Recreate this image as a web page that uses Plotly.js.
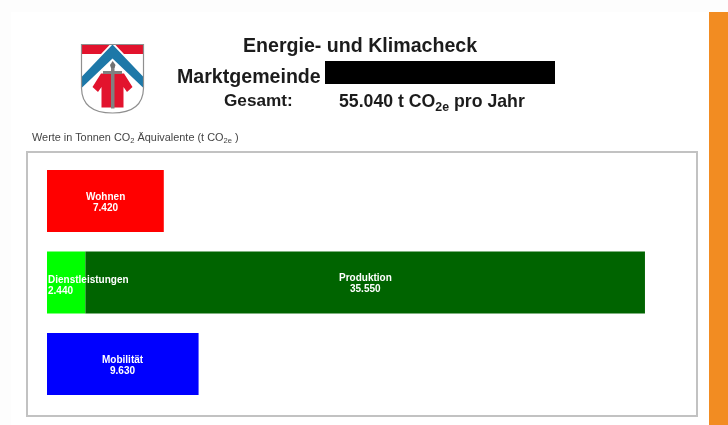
<!DOCTYPE html>
<html><head><meta charset="utf-8">
<script src="https://cdn.plot.ly/plotly-3.0.1.min.js"></script>
<style>html,body{margin:0;padding:0;background:#fff;overflow:hidden}#c{width:728px;height:425px;filter:blur(0.45px)}</style>
</head><body><div id="c"></div>
<script>
const segments = ["Wohnen","Dienstleistungen","Produktion","Mobilität"];
const values = [7420,2440,35550,9630];
const valueLabels = ["7.420","2.440","35.550","9.630"];
const rows = [0,1,1,2];
const colors = ["#ff0000","#00ff00","#006400","#0000ff"];

const W=728,H=425;
const px=(x)=>(x/W).toFixed(5), py=(y)=>(1-y/H).toFixed(5);
function path(pts,fill,line,lw){
  const d=pts.replace(/(-?[\d.]+),(-?[\d.]+)/g,(m,a,b)=>px(+a)+","+py(+b));
  return {type:"path",xref:"paper",yref:"paper",path:d,fillcolor:fill,line:{color:line||fill,width:lw||0},layer:"above"};
}
function rect(x0,y0,x1,y1,fill,layer){
  return {type:"rect",xref:"paper",yref:"paper",x0:x0/W,x1:x1/W,y0:1-y0/H,y1:1-y1/H,fillcolor:fill,line:{width:0},layer:layer||"above"};
}
const shield="M81.5,44.5 L143.5,44.5 L143.5,88 Q143,113 112.5,113 Q82,113 81.5,88 Z";
const shapes=[
  rect(11,12,709,425,"#ffffff","below"),
  rect(709,12,728,425,"#f28c22","below"),
  rect(325,61,555,84,"#000000"),
  path(shield,"#ffffff"),
  path("M81.5,44.5 L110,44.5 L101,54 L81.5,54 Z","#e2132d"),
  path("M143.5,44.5 L115,44.5 L124,54 L143.5,54 Z","#e2132d"),
  path("M112.5,44.5 L143.5,77 L143.5,88 L112.5,58.5 L81.5,88 L81.5,77 Z","#1d78a8"),
  path("M101,73.5 L124,73.5 L132.5,87 L127,92 L123.5,87 L123.5,107.5 L101.5,107.5 L101.5,87 L98,92 L92.5,87 Z","#e2132d"),
  rect(111,64,114.5,108.5,"#808080"),
  rect(103,71,122,74,"#808080"),
  path("M110,65 L112.7,61 L115.5,65 L114.5,68 L111,68 Z","#707070"),
  path(shield,"rgba(0,0,0,0)","#8f8f8f",1.2)
];
const titleColor="#1c1c1c", F="Liberation Sans, Arial, sans-serif";
function note(text,x,y,size,anchor,color,bold){
  return {text:bold?"<b>"+text+"</b>":text,xref:"paper",yref:"paper",x:x/W,y:1-y/H,xanchor:anchor,yanchor:"middle",
    showarrow:false,align:anchor==="center"?"center":"left",font:{family:F,size:size,color:color}};
}
const annotations=[
  note("Energie- und Klimacheck",360,45,19.6,"center",titleColor,true),
  note("Marktgemeinde",175,76,19.6,"left",titleColor,true),
  note("Gesamt:",222,100.5,17.2,"left",titleColor,true),
  note("55.040 t CO<sub>2e</sub> pro Jahr",337,102,17.7,"left",titleColor,true),
  note("Werte in Tonnen CO<sub>2</sub> Äquivalente (t CO<sub>2e</sub> )",30,138,10.9,"left","#444444",false)
];
let base={};
const traces=segments.map((s,i)=>{
  const b=base[rows[i]]||0;
  base[rows[i]]=b+values[i];
  const narrow=values[i]<3000;
  [[s,5.5],[valueLabels[i],-5.5]].forEach(([t,dy])=>{
    annotations.push({text:"<b>"+t+"</b>",x:narrow?b:b+values[i]/2,y:rows[i],xref:"x",yref:"y",
      xshift:narrow?-1:0,yshift:dy-1-(narrow?2:0),xanchor:narrow?"left":"center",yanchor:"middle",align:narrow?"left":"center",showarrow:false,
      font:{family:F,size:10,color:"#ffffff"}});
  });
  return {type:"bar",orientation:"h",name:s,x:[values[i]],y:[rows[i]],base:[b],width:0.76,
    marker:{color:colors[i],line:{width:0}},hoverinfo:"name+x",textposition:"none"};
});
const layout={
  width:W,height:H,margin:{l:0,r:0,t:0,b:0,pad:0},showlegend:false,
  paper_bgcolor:"#fdfdfd",plot_bgcolor:"#ffffff",barmode:"overlay",
  xaxis:{domain:[27.5/W,695.5/W],range:[-1239,41201],showgrid:false,zeroline:false,showticklabels:false,ticks:"",
    showline:true,mirror:true,linecolor:"#c2c2c2",linewidth:2},
  yaxis:{domain:[1-415/H,1-153/H],range:[2.626,-0.589],showgrid:false,zeroline:false,showticklabels:false,ticks:"",
    showline:true,mirror:true,linecolor:"#c2c2c2",linewidth:2},
  shapes,annotations
};
Plotly.newPlot("c",traces,layout,{displayModeBar:false,staticPlot:true});
</script></body></html>
